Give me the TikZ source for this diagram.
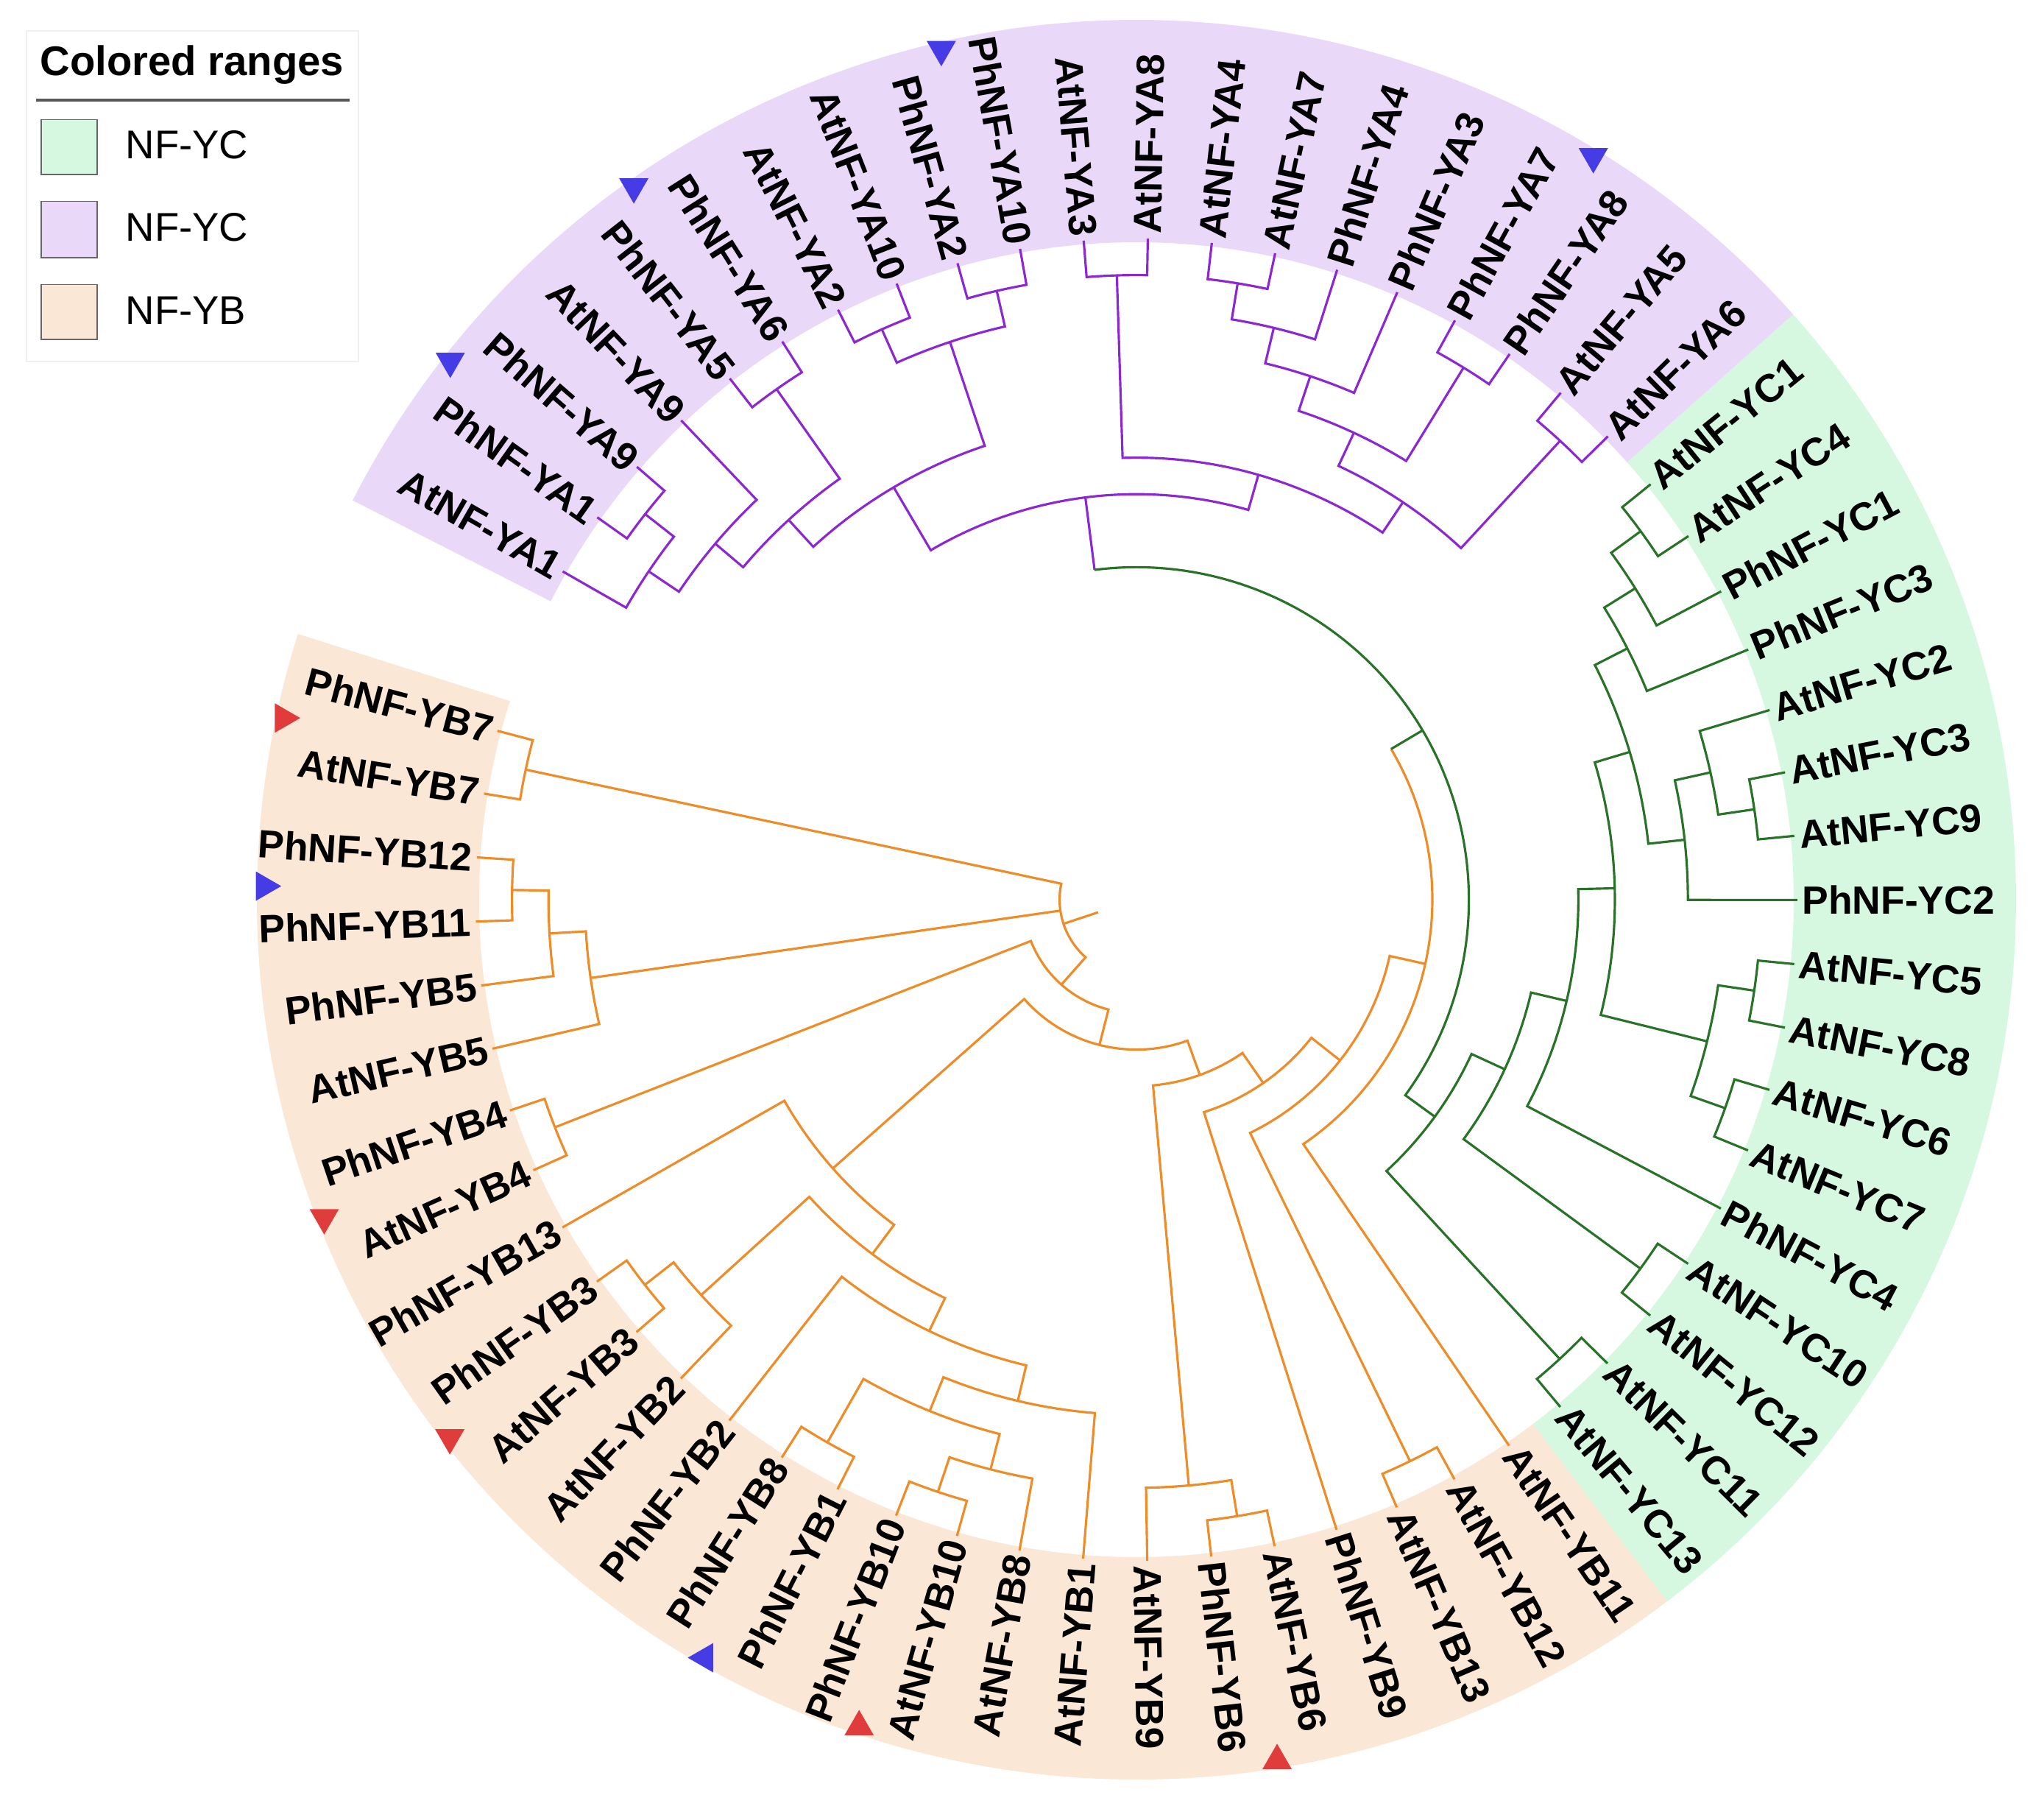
\documentclass[tikz,border=0pt]{standalone}
\usepackage{fontspec}
\setmainfont{Liberation Sans}
\definecolor{bandG}{RGB}{214,248,224}
\definecolor{bandP}{RGB}{233,216,248}
\definecolor{bandO}{RGB}{250,231,214}
\definecolor{lineO}{RGB}{238,140,40}
\definecolor{lineP}{RGB}{140,40,210}
\definecolor{lineG}{RGB}{40,115,40}
\definecolor{triR}{RGB}{225,60,60}
\definecolor{triB}{RGB}{70,60,230}
\newcommand{\pairb}[3]{\draw[#1] (#2:8.98) -- (#2:8.484) arc[start angle=#2, end angle=#3, radius=8.484] -- (#3:8.98);}
\newcommand{\nodeb}[6]{\draw[#1] (#2:#3) -- (#2:#6) arc[start angle=#2, end angle=#4, radius=#6] -- (#4:#5);}
\newcommand{\lR}[3]{\node[lab, anchor=west, rotate=#2] (#1) at (#2:9.04) {#3};}
\newcommand{\lL}[3]{\node[lab, anchor=east, rotate=#2-180] (#1) at (#2:9.04) {#3};}
\newcommand{\band}[4]{\fill[#1] (#2:8.93) arc[start angle=#2, end angle=#3, radius=8.93] -- (#3:11.95) arc[start angle=#3, end angle=#2, radius=11.95] -- cycle;}
\newcommand{\tri}[3]{\fill[#1, shift={(#2:11.85)}] (#3:0.23) -- ({#3+120}:0.23) -- ({#3+240}:0.23) -- cycle;}
\begin{document}
\begin{tikzpicture}[
  ob/.style={draw=lineO, line width=0.9pt},
  gb/.style={draw=lineG, line width=0.9pt},
  pb/.style={draw=lineP, line width=0.9pt},
  lab/.style={inner sep=0pt, font=\fontsize{15.2}{18}\selectfont\bfseries},
  legtxt/.style={inner sep=0pt, font=\fontsize{15.5}{18}\selectfont},
  legbox/.style={draw=black!60, line width=0.5pt}]
\useasboundingbox (-15.44,-12.49) rectangle (12.33,12.22);
\fill[white] (-15.44,-12.49) rectangle (12.33,12.22);
% colored ranges
\band{bandO}{162.42}{307.11}{}
\band{bandG}{307.11}{401.71}{}
\band{bandP}{401.71}{513.01}{}
% ---------- orange (NF-YB) ----------
\draw[ob] (167.98:8.484) -- (167.98:1.044) arc[start angle=167.98, end angle=228.53, radius=1.044] -- (228.53:1.54);
\draw[ob] (188.16:1.044) -- (188.16:7.492);
\draw[ob] (198.26:0.548) -- (198.26:1.044);
\pairb{ob}{165.2}{170.765}
\nodeb{ob}{183.29}{7.988}{193.025}{8.98}{7.492}
\nodeb{ob}{179.11}{8.484}{187.46}{8.98}{7.988}
\pairb{ob}{176.33}{181.895}
\nodeb{ob}{201.37}{8.484}{255.70}{2.036}{1.54}
\pairb{ob}{198.59}{204.155}
\nodeb{ob}{221.5}{5.508}{289.89}{2.532}{2.036}
\nodeb{ob}{209.72}{8.98}{233.29}{6.004}{5.508}
\nodeb{ob}{222.24}{7.988}{244.33}{6.5}{6.004}
\nodeb{ob}{218.07}{8.484}{226.415}{8.98}{7.988}
\pairb{ob}{215.285}{220.85}
\nodeb{ob}{231.98}{8.98}{256.68}{6.996}{6.5}
\nodeb{ob}{247.98}{7.492}{265.37}{8.98}{6.996}
\nodeb{ob}{240.33}{8.484}{255.63}{7.988}{7.492}
\pairb{ob}{237.545}{243.11}
\nodeb{ob}{251.46}{8.484}{259.805}{8.98}{7.988}
\pairb{ob}{248.675}{254.24}
\nodeb{ob}{275.11}{7.988}{304.68}{3.028}{2.532}
\nodeb{ob}{270.935}{8.98}{279.28}{8.484}{7.988}
\pairb{ob}{276.5}{282.065}
\nodeb{ob}{287.63}{8.98}{321.72}{3.524}{3.028}
\nodeb{ob}{295.98}{8.484}{347.47}{4.02}{3.524}
\pairb{ob}{293.195}{298.76}
\draw[ob] (304.325:8.98) -- (304.325:4.02) arc[start angle=304.325, end angle=390.61, radius=4.02];
% ---------- green (NF-YC) ----------
\draw[gb] (390.61:4.02) -- (390.61:4.516);
\draw[gb] (323.98:5.012) -- (323.98:4.516) arc[start angle=323.98, end angle=457.24, radius=4.516];
\nodeb{gb}{312.67}{8.484}{335.28}{5.508}{5.012}
\pairb{gb}{309.89}{315.455}
\nodeb{gb}{323.80}{8.484}{346.76}{6.004}{5.508}
\pairb{gb}{321.02}{326.585}
\nodeb{gb}{332.15}{8.98}{361.37}{6.5}{6.004}
\nodeb{gb}{346.06}{7.988}{376.67}{6.996}{6.5}
\nodeb{gb}{340.50}{8.484}{351.63}{8.484}{7.988}
\pairb{gb}{337.715}{343.28}
\pairb{gb}{348.845}{354.41}
\nodeb{gb}{366.24}{7.492}{387.10}{7.492}{6.996}
\nodeb{gb}{359.975}{8.98}{372.50}{7.988}{7.492}
\nodeb{gb}{368.32}{8.484}{376.67}{8.98}{7.988}
\pairb{gb}{365.54}{371.105}
\nodeb{gb}{382.235}{8.98}{391.97}{7.988}{7.492}
\nodeb{gb}{387.8}{8.98}{396.15}{8.484}{7.988}
\pairb{gb}{393.365}{398.93}
% ---------- purple (NF-YA) ----------
\draw[pb] (457.24:4.516) -- (457.24:5.508);
\nodeb{pb}{433.98}{6.004}{480.49}{6.5}{5.508}
\nodeb{pb}{416.15}{6.5}{451.80}{8.484}{6.004}
\pairb{pb}{449.015}{454.58}
\nodeb{pb}{407.28}{8.484}{425.02}{6.996}{6.5}
\pairb{pb}{404.495}{410.06}
\nodeb{pb}{418.41}{8.484}{431.63}{7.492}{6.996}
\pairb{pb}{415.625}{421.19}
\nodeb{pb}{426.755}{8.98}{436.49}{7.988}{7.492}
\nodeb{pb}{432.32}{8.98}{440.67}{8.484}{7.988}
\pairb{pb}{437.885}{443.45}
\nodeb{pb}{468.49}{7.988}{492.49}{6.996}{6.5}
\nodeb{pb}{462.93}{8.484}{474.06}{8.484}{7.988}
\pairb{pb}{460.145}{465.71}
\pairb{pb}{471.275}{476.84}
\nodeb{pb}{485.19}{8.484}{499.80}{7.492}{6.996}
\pairb{pb}{482.405}{487.97}
\nodeb{pb}{493.535}{8.98}{506.06}{7.988}{7.492}
\nodeb{pb}{501.88}{8.484}{510.23}{8.98}{7.988}
\pairb{pb}{499.1}{504.665}
% ---------- labels ----------
\lL{PhYBvii}{165.2}{PhNF-YB7}
\lL{AtYBvii}{170.765}{AtNF-YB7}
\lL{PhYBxii}{176.33}{PhNF-YB12}
\lL{PhYBxi}{181.895}{PhNF-YB11}
\lL{PhYBv}{187.46}{PhNF-YB5}
\lL{AtYBv}{193.025}{AtNF-YB5}
\lL{PhYBiv}{198.59}{PhNF-YB4}
\lL{AtYBiv}{204.155}{AtNF-YB4}
\lL{PhYBxiii}{209.72}{PhNF-YB13}
\lL{PhYBiii}{215.285}{PhNF-YB3}
\lL{AtYBiii}{220.85}{AtNF-YB3}
\lL{AtYBii}{226.415}{AtNF-YB2}
\lL{PhYBii}{231.98}{PhNF-YB2}
\lL{PhYBviii}{237.545}{PhNF-YB8}
\lL{PhYBi}{243.11}{PhNF-YB1}
\lL{PhYBx}{248.675}{PhNF-YB10}
\lL{AtYBx}{254.24}{AtNF-YB10}
\lL{AtYBviii}{259.805}{AtNF-YB8}
\lL{AtYBi}{265.37}{AtNF-YB1}
\lR{AtYBix}{270.935}{AtNF-YB9}
\lR{PhYBvi}{276.5}{PhNF-YB6}
\lR{AtYBvi}{282.065}{AtNF-YB6}
\lR{PhYBix}{287.63}{PhNF-YB9}
\lR{AtYBxiii}{293.195}{AtNF-YB13}
\lR{AtYBxii}{298.76}{AtNF-YB12}
\lR{AtYBxi}{304.325}{AtNF-YB11}
\lR{AtYCxiii}{309.89}{AtNF-YC13}
\lR{AtYCxi}{315.455}{AtNF-YC11}
\lR{AtYCxii}{321.02}{AtNF-YC12}
\lR{AtYCx}{326.585}{AtNF-YC10}
\lR{PhYCiv}{332.15}{PhNF-YC4}
\lR{AtYCvii}{337.715}{AtNF-YC7}
\lR{AtYCvi}{343.28}{AtNF-YC6}
\lR{AtYCviii}{348.845}{AtNF-YC8}
\lR{AtYCv}{354.41}{AtNF-YC5}
\lR{PhYCii}{359.975}{PhNF-YC2}
\lR{AtYCix}{365.54}{AtNF-YC9}
\lR{AtYCiii}{371.105}{AtNF-YC3}
\lR{AtYCii}{376.67}{AtNF-YC2}
\lR{PhYCiii}{382.235}{PhNF-YC3}
\lR{PhYCi}{387.8}{PhNF-YC1}
\lR{AtYCiv}{393.365}{AtNF-YC4}
\lR{AtYCi}{398.93}{AtNF-YC1}
\lR{AtYAvi}{404.495}{AtNF-YA6}
\lR{AtYAv}{410.06}{AtNF-YA5}
\lR{PhYAviii}{415.625}{PhNF-YA8}
\lR{PhYAvii}{421.19}{PhNF-YA7}
\lR{PhYAiii}{426.755}{PhNF-YA3}
\lR{PhYAiv}{432.32}{PhNF-YA4}
\lR{AtYAvii}{437.885}{AtNF-YA7}
\lR{AtYAiv}{443.45}{AtNF-YA4}
\lR{AtYAviii}{449.015}{AtNF-YA8}
\lL{AtYAiii}{454.58}{AtNF-YA3}
\lL{PhYAx}{460.145}{PhNF-YA10}
\lL{PhYAii}{465.71}{PhNF-YA2}
\lL{AtYAx}{471.275}{AtNF-YA10}
\lL{AtYAii}{476.84}{AtNF-YA2}
\lL{PhYAvi}{482.405}{PhNF-YA6}
\lL{PhYAv}{487.97}{PhNF-YA5}
\lL{AtYAix}{493.535}{AtNF-YA9}
\lL{PhYAix}{499.1}{PhNF-YA9}
\lL{PhYAi}{504.665}{PhNF-YA1}
\lL{AtYAi}{510.23}{AtNF-YA1}
% ---------- triangles ----------
\tri{triR}{167.98}{0}
\tri{triB}{179.11}{0}
\tri{triR}{201.37}{270}
\tri{triR}{218.07}{270}
\tri{triB}{240.33}{180}
\tri{triR}{251.46}{90}
\tri{triR}{279.28}{90}
\tri{triB}{418.41}{270}
\tri{triB}{462.93}{270}
\tri{triB}{485.19}{270}
\tri{triB}{501.88}{270}
% ---------- legend ----------
\draw[draw=black!6, fill=white, line width=0.6pt] (-15.08,11.80) rectangle (-10.57,7.31);
\node[legtxt, font=\fontsize{16}{19}\selectfont\bfseries, anchor=base west] (legtitle) at (-14.90,11.19) {Colored ranges};
\draw[black!65, line width=1pt] (-14.95,10.86) -- (-10.69,10.86);
\draw[legbox, fill=bandG] (-14.88,10.595) rectangle (-14.12,9.85);
\draw[legbox, fill=bandP] (-14.88,9.484) rectangle (-14.12,8.72);
\draw[legbox, fill=bandO] (-14.88,8.356) rectangle (-14.12,7.61);
\node[legtxt, anchor=base west] (legA) at (-13.74,10.06) {NF-YC};
\node[legtxt, anchor=base west] (legB) at (-13.74,8.94) {NF-YC};
\node[legtxt, anchor=base west] (legC) at (-13.74,7.81) {NF-YB};
\end{tikzpicture}
\end{document}
